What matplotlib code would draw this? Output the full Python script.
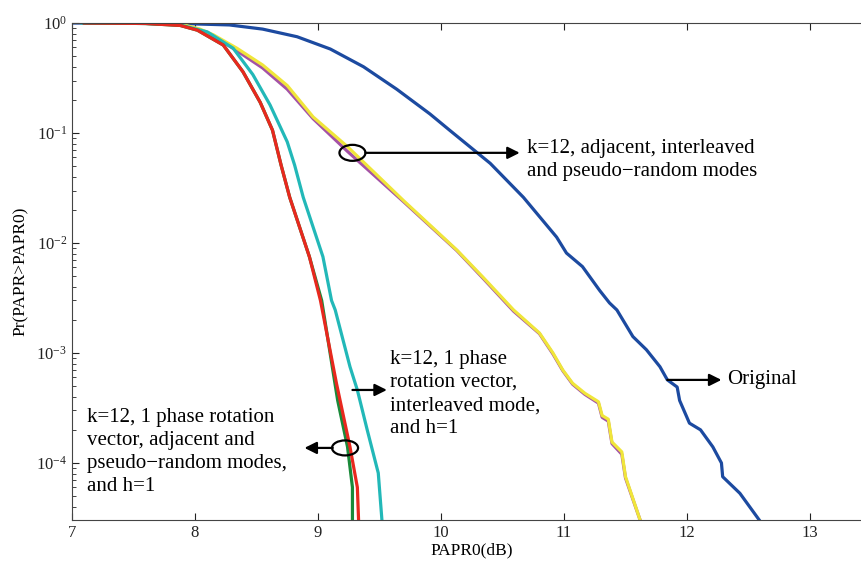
import matplotlib
matplotlib.use("Agg")
import matplotlib.pyplot as plt
from matplotlib.patches import Ellipse
from matplotlib.ticker import LogLocator, LogFormatterMathtext, NullFormatter

plt.rcParams.update({
    "font.family": "Liberation Serif",
    "mathtext.fontset": "custom",
    "mathtext.rm": "Liberation Serif",
    "font.size": 11,
})

# PAPR0 (dB) / CCDF values
x_orig = [7.0, 7.5, 7.88, 8.28, 8.55, 8.83, 9.10, 9.37, 9.64, 9.91, 10.07, 10.40, 10.67, 10.94,
          11.02, 11.15, 11.29, 11.37, 11.43, 11.56, 11.67, 11.78, 11.84, 11.92, 11.94, 12.02,
          12.11, 12.21, 12.28, 12.29, 12.43, 12.59]
y_orig = [1.0, 1.0, 0.99, 0.96, 0.88, 0.75, 0.58, 0.40, 0.25, 0.149, 0.106, 0.053, 0.026, 0.0113,
          0.0081, 0.0061, 0.0037, 0.00285, 0.00246, 0.00141, 0.00107, 7.5e-4, 5.7e-4, 4.9e-4, 3.7e-4, 2.3e-4,
          2.0e-4, 1.4e-4, 1.0e-4, 7.5e-5, 5.3e-5, 3.0e-5]

x_yel = [7.28, 7.63, 7.88, 8.04, 8.15, 8.34, 8.55, 8.75, 8.96, 9.24, 9.70, 10.13, 10.34, 10.59, 10.80,
         10.91, 10.99, 11.07, 11.17, 11.28, 11.31, 11.36, 11.39, 11.47, 11.50, 11.62]
y_yel = [1.0, 0.99, 0.98, 0.88, 0.78, 0.59, 0.415, 0.27, 0.14, 0.075, 0.024, 0.0086, 0.0049, 0.00246, 0.00152,
         0.0010, 7.0e-4, 5.3e-4, 4.3e-4, 3.6e-4, 2.7e-4, 2.5e-4, 1.55e-4, 1.26e-4, 7.5e-5, 3.0e-5]

x_pur = [7.15, 7.63, 7.88, 8.04, 8.15, 8.34, 8.55, 8.75, 8.96, 9.24, 9.70, 10.13, 10.34, 10.59, 10.80,
         10.91, 10.99, 11.07, 11.17, 11.28, 11.31, 11.36, 11.39, 11.47, 11.50, 11.62]
y_pur = [1.0, 0.99, 0.97, 0.87, 0.76, 0.56, 0.39, 0.25, 0.135, 0.068, 0.0235, 0.0085, 0.0048, 0.0024, 0.0015,
         0.00098, 6.9e-4, 5.2e-4, 4.2e-4, 3.5e-4, 2.6e-4, 2.4e-4, 1.5e-4, 1.2e-4, 7.3e-5, 3.0e-5]

x_cyan = [7.08, 7.6, 7.88, 8.10, 8.31, 8.47, 8.61, 8.75, 8.81, 8.88, 9.04, 9.11, 9.14, 9.26, 9.32,
          9.40, 9.49, 9.52]
y_cyan = [1.0, 0.99, 0.96, 0.83, 0.59, 0.34, 0.18, 0.083, 0.051, 0.026, 0.0075, 0.0030, 0.00246,
          7.5e-4, 4.6e-4, 2.0e-4, 8.1e-5, 3.0e-5]

x_red = [7.1, 7.6, 7.88, 8.02, 8.23, 8.39, 8.53, 8.63, 8.70, 8.77, 8.93, 9.02, 9.15, 9.26, 9.32, 9.33]
y_red = [1.0, 0.99, 0.95, 0.86, 0.63, 0.36, 0.19, 0.106, 0.051, 0.026, 0.0075, 0.0030, 5.3e-4,
         1.4e-4, 6.0e-5, 3.0e-5]

x_grn = [7.1, 7.6, 7.88, 8.02, 8.23, 8.39, 8.53, 8.63, 8.70, 8.77, 8.93, 9.03, 9.16, 9.24, 9.28, 9.28]
y_grn = [1.0, 0.99, 0.95, 0.86, 0.63, 0.36, 0.19, 0.106, 0.051, 0.026, 0.0075, 0.0030, 3.7e-4,
         1.4e-4, 6.0e-5, 3.0e-5]

fig = plt.figure(figsize=(8.62, 5.64), dpi=100)
ax = fig.add_axes([72 / 862, 1 - 520 / 564, (871.5 - 72) / 862, (520 - 23) / 564])

lw = 2.3
ax.plot(x_orig, y_orig, color="#1c4aa0", lw=lw)
ax.plot(x_pur, y_pur, color="#a452a6", lw=lw)
ax.plot(x_yel, y_yel, color="#f0e63a", lw=lw)
ax.plot(x_cyan, y_cyan, color="#22b8b8", lw=lw)
ax.plot(x_grn, y_grn, color="#1a8a3a", lw=lw)
ax.plot(x_red, y_red, color="#e8281e", lw=lw)

ax.set_xlim(7, 13.5)
ax.set_ylim(3.03e-5, 1)
ax.set_yscale("log")
ax.yaxis.set_major_locator(LogLocator(base=10.0, numticks=10))
ax.yaxis.set_major_formatter(LogFormatterMathtext())
ax.yaxis.set_minor_locator(LogLocator(base=10.0, subs=range(2, 10), numticks=10))
ax.yaxis.set_minor_formatter(NullFormatter())
ax.set_xticks([7, 8, 9, 10, 11, 12, 13])

ax.tick_params(which="both", direction="in", top=True, right=True, labelsize=12, colors="#222222")
ax.tick_params(which="major", length=5)
ax.tick_params(which="minor", length=3)
for s in ax.spines.values():
    s.set_color("#444444")
ax.spines["right"].set_visible(False)

ax.set_xlabel("PAPR0(dB)", fontsize=12.5, labelpad=1)
ax.set_ylabel("Pr(PAPR>PAPR0)", fontsize=12.5, labelpad=5)

fig.canvas.draw()


def to_axes(x, y):
    return ax.transAxes.inverted().transform(ax.transData.transform((x, y)))


def ellipse(x, y, w_px, h_px):
    cx, cy = to_axes(x, y)
    bb = ax.get_window_extent()
    e = Ellipse((cx, cy), w_px / bb.width, h_px / bb.height, transform=ax.transAxes,
                fill=False, ec="black", lw=1.6, zorder=5)
    ax.add_patch(e)


arrow = dict(arrowstyle="-|>", color="black", lw=1.6, mutation_scale=18,
             shrinkA=0, shrinkB=0)
tsize = 15
lsp = 1.3

# adjacent / interleaved / pseudo-random group
ellipse(9.28, 0.066, 26, 16)
ax.annotate("", xy=(10.64, 0.066), xytext=(9.385, 0.066), arrowprops=arrow)
ax.text(10.70, 0.0568, "k=12, adjacent, interleaved\nand pseudo\u2212random modes",
        fontsize=tsize, va="center", ha="left", linespacing=lsp)

# original
ax.annotate("", xy=(12.28, 5.69e-4), xytext=(11.84, 5.69e-4), arrowprops=arrow)
ax.text(12.33, 5.69e-4, "Original", fontsize=tsize, va="center", ha="left")

# interleaved, h=1
ax.annotate("", xy=(9.56, 4.61e-4), xytext=(9.28, 4.61e-4), arrowprops=arrow)
ax.text(9.585, 4.24e-4, "k=12, 1 phase\nrotation vector,\ninterleaved mode,\nand h=1",
        fontsize=tsize, va="center", ha="left", linespacing=lsp)

# adjacent and pseudo-random, h=1
ellipse(9.22, 1.37e-4, 26, 15)
ax.annotate("", xy=(8.89, 1.37e-4), xytext=(9.12, 1.37e-4), arrowprops=arrow)
ax.text(7.122, 1.26e-4, "k=12, 1 phase rotation\nvector, adjacent and\npseudo\u2212random modes,\nand h=1",
        fontsize=tsize, va="center", ha="left", linespacing=lsp)

fig.savefig("out.png", dpi=100)
